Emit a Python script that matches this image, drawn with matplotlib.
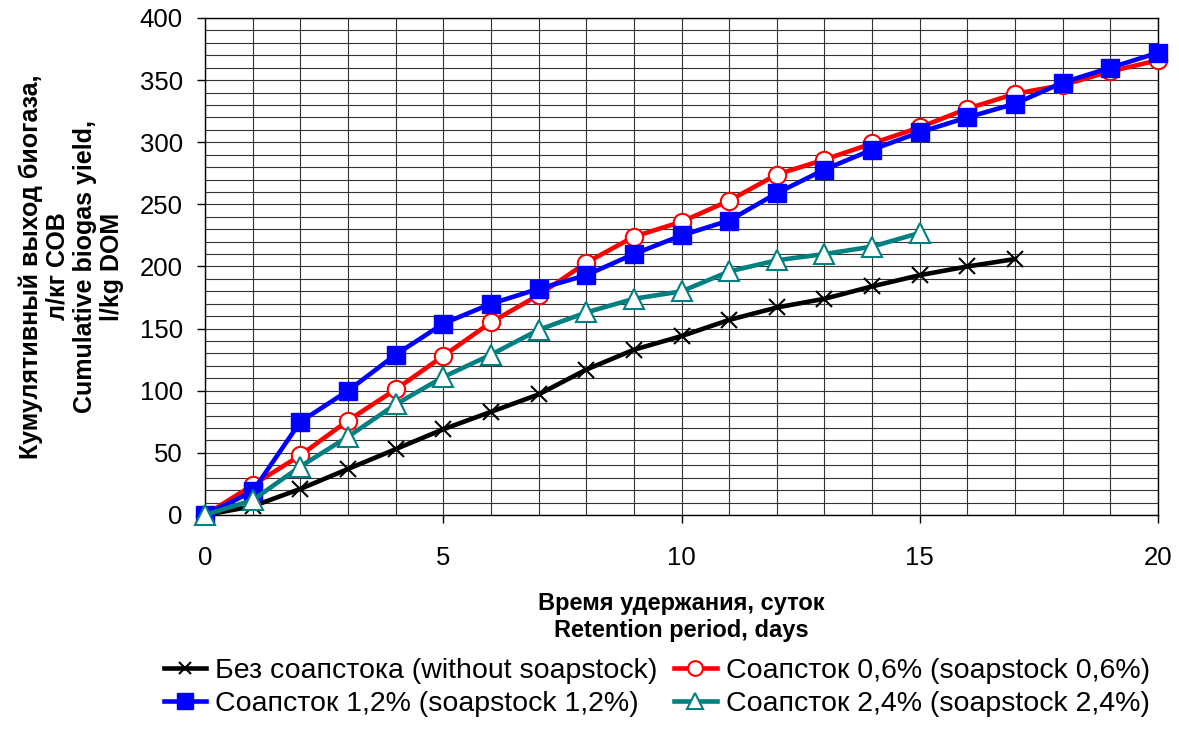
import numpy as np
import matplotlib.pyplot as plt
from matplotlib.ticker import MultipleLocator

plt.rcParams['font.family'] = ['Liberation Sans', 'DejaVu Sans']

# Данные
days_20 = list(range(0, 21))
days_17 = list(range(0, 18))
days_15 = list(range(0, 16))

no_soap = [0, 7, 21, 37, 53, 69, 83, 97, 117, 133, 144, 157, 167, 174, 184, 193, 200, 206]
soap_06 = [0, 24, 48, 76, 101, 128, 155, 177, 203, 224, 236, 253, 274, 286, 299, 312, 327, 339, 346, 357, 366]
soap_12 = [0, 19, 75, 100, 129, 154, 170, 182, 193, 210, 225, 237, 259, 278, 294, 308, 320, 331, 348, 360, 372]
soap_24 = [0, 12, 39, 63, 89, 111, 129, 149, 163, 174, 180, 196, 205, 210, 216, 227]

labels = ["Без соапстока (without soapstock)", "Соапсток 0,6% (soapstock 0,6%)",
          "Соапсток 1,2% (soapstock 1,2%)", "Соапсток 2,4% (soapstock 2,4%)"]

fig = plt.figure(figsize=(11.79, 7.31), dpi=100)
ax = fig.add_axes([0.1739, 0.2955, 0.8083, 0.6799])

l_black, = ax.plot(days_17, no_soap, color="black", lw=3.3, marker="x", ms=11, mew=1.5,
                   clip_on=False, zorder=3)
l_red, = ax.plot(days_20, soap_06, color="red", lw=3.3, marker="o", ms=12.5, mfc="white",
                 mec="red", mew=1.5, clip_on=False, zorder=4)
l_blue, = ax.plot(days_20, soap_12, color="blue", lw=3.3, marker="s", ms=13, mfc="blue",
                  mec="blue", clip_on=False, zorder=5)
l_teal, = ax.plot(days_15, soap_24, color="#008080", lw=3.3, marker="^", ms=14, mfc="white",
                  mec="#008080", mew=1.5, clip_on=False, zorder=6)

ax.set_xlim(0, 20)
ax.set_ylim(0, 400)
ax.xaxis.set_major_locator(MultipleLocator(5))
ax.xaxis.set_minor_locator(MultipleLocator(1))
ax.yaxis.set_major_locator(MultipleLocator(50))
ax.yaxis.set_minor_locator(MultipleLocator(10))
ax.grid(which="both", color="#333333", lw=0.8)
ax.set_axisbelow(True)
ax.tick_params(axis="both", which="major", labelsize=18.5, direction="out", length=6, width=1)
ax.tick_params(axis="both", which="minor", length=0)
ax.tick_params(axis="x", which="major", pad=16)
ax.tick_params(axis="y", which="major", pad=10)
for s in ax.spines.values():
    s.set_color("black")
    s.set_linewidth(1)

ax.set_xlabel("Время удержания, суток\nRetention period, days", fontsize=17,
              fontweight="bold", linespacing=1.2)
ax.xaxis.set_label_coords(0.5, -0.155)
ax.set_ylabel("Кумулятивный выход биогаза,\nл/кг СОВ\nCumulative biogas yield,\nl/kg DOM",
              fontsize=18, fontweight="bold", linespacing=1.16, va="center")
ax.yaxis.set_label_coords(-0.1406, 0.5)

fig.legend([l_black, l_blue, l_red, l_teal],
           [labels[0], labels[2], labels[1], labels[3]],
           ncol=2, loc="center", bbox_to_anchor=(0.557, 0.0595), frameon=False,
           fontsize=20.5, handlelength=1.5, handletextpad=0.32, columnspacing=0.56,
           labelspacing=0.25, borderaxespad=0, markerscale=0.85)

fig.savefig("out.png", dpi=100)
